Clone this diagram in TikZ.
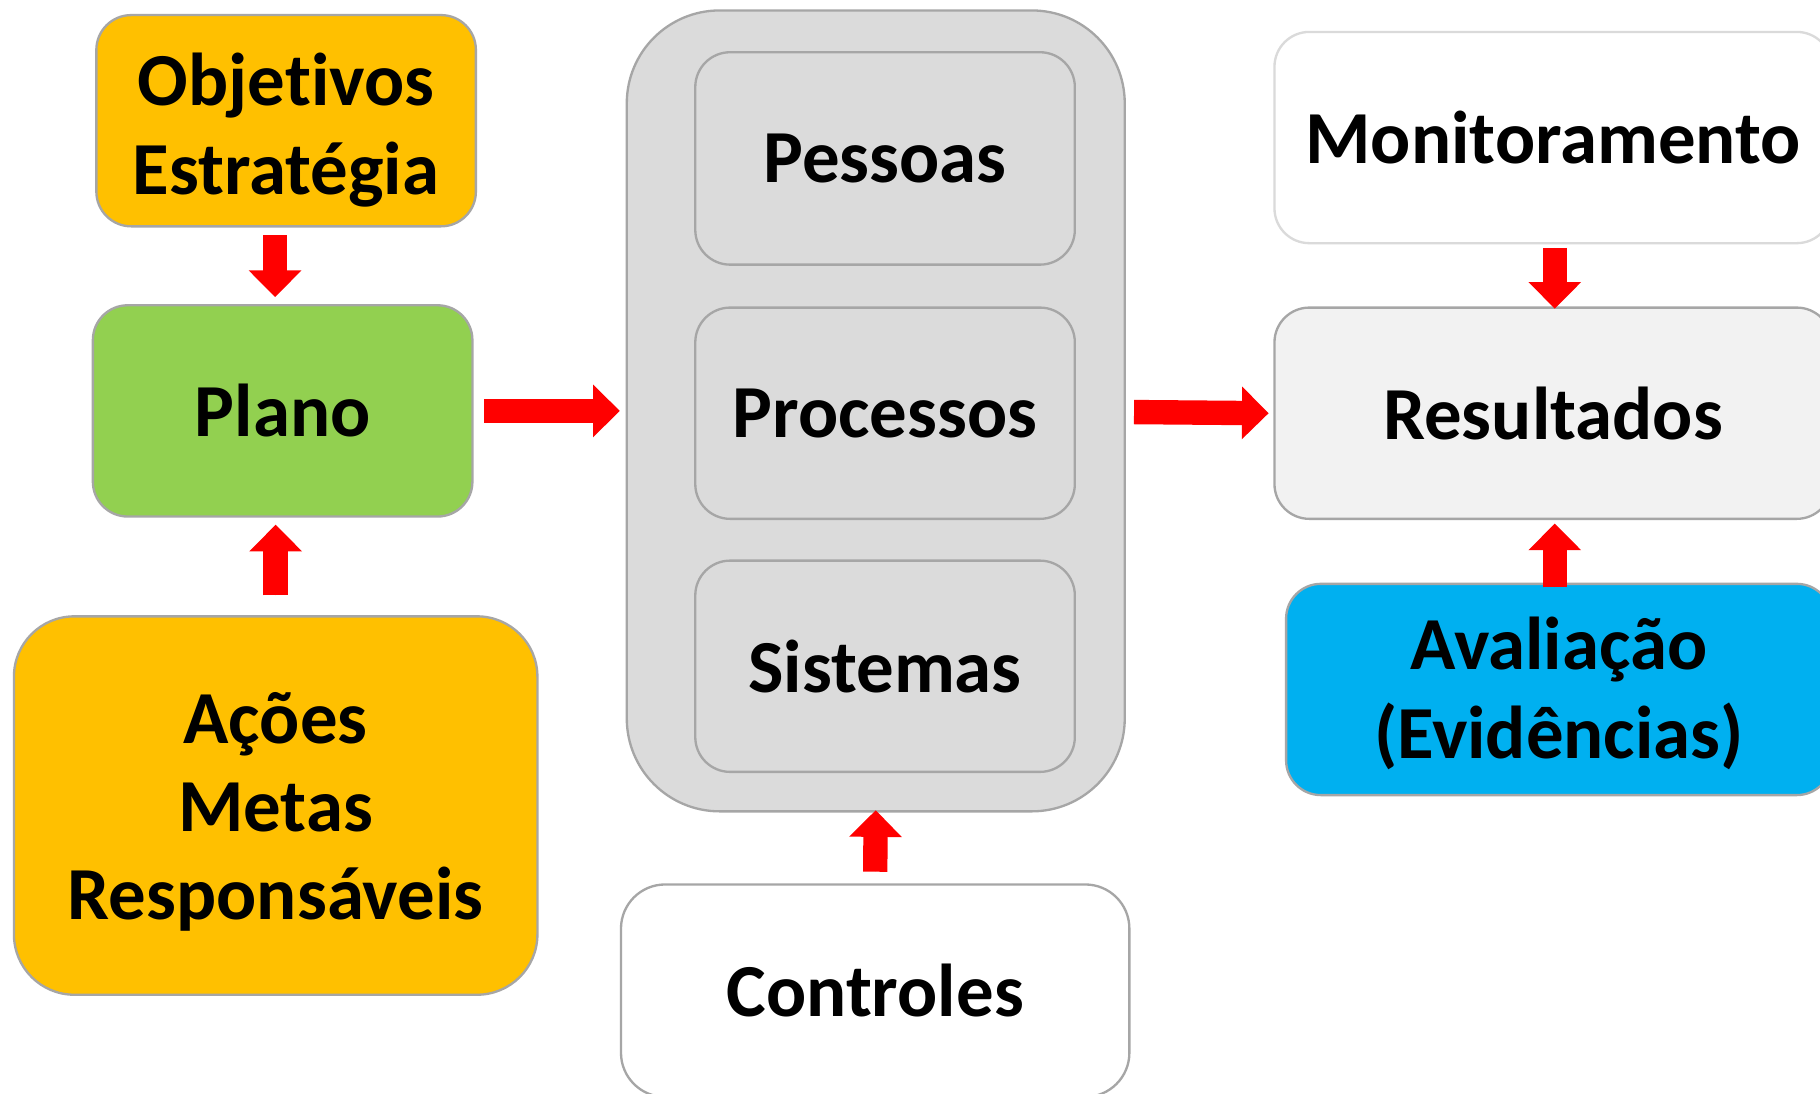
\documentclass[tikz,border=0pt]{standalone}
\usepackage{fontspec}
\setmainfont{Carlito}[Ligatures=NoCommon]
\usetikzlibrary{arrows.meta,calc}
\definecolor{orangeF}{HTML}{FFC000}
\definecolor{greenF}{HTML}{92D050}
\definecolor{blueF}{HTML}{00B0F0}
\definecolor{grayF}{HTML}{DBDBDB}
\definecolor{lightF}{HTML}{F2F2F2}
\definecolor{edgeG}{HTML}{A6A6A6}
\definecolor{edgeL}{HTML}{DADADA}
\definecolor{redA}{HTML}{FF0000}
\newcommand{\lowered}[2]{\raisebox{0pt}[\dimexpr\height+#1\relax][\depth]{\begin{tabular}{@{}c@{}}#2\end{tabular}}}
\begin{document}
\begin{tikzpicture}[x=1pt,y=-1pt,
  box/.style={draw=edgeG, line width=2pt, rectangle, inner sep=0pt, align=center,
    font=\fontsize{64.5}{76}\selectfont\bfseries, text=black},
  blockarrow/.style={draw=redA, fill=redA, line width=21pt,
    -{Triangle[width=44pt,length=23pt]}}]
\useasboundingbox (0,0) rectangle (1568,942);
\clip (0,0) rectangle (1568,942);
\fill[white] (0,0) rectangle (1568,942);

% left column
\node[box, fill=orangeF, minimum width=327pt, minimum height=182pt, rounded corners=30pt]
  (obj) at (246.5,104) {\lowered{20pt}{Objetivos\\Estratégia}};
\node[box, fill=greenF, minimum width=327pt, minimum height=182pt, rounded corners=30pt]
  (plano) at (243.5,354) {Plano};
\node[box, fill=orangeF, minimum width=451pt, minimum height=326pt, rounded corners=52pt]
  (acoes) at (237.5,694) {\lowered{14pt}{Ações\\Metas\\Responsáveis}};

% middle column
\node[box, fill=grayF, minimum width=429pt, minimum height=690pt, rounded corners=80pt]
  (big) at (754.5,354) {};
\node[box, fill=grayF, minimum width=327pt, minimum height=183pt, rounded corners=30pt]
  (pessoas) at (762.5,136.5) {Pessoas};
\node[box, fill=grayF, minimum width=327pt, minimum height=182pt, rounded corners=30pt]
  (processos) at (762.5,356) {Processos};
\node[box, fill=grayF, minimum width=327pt, minimum height=182pt, rounded corners=30pt]
  (sistemas) at (762.5,574) {Sistemas};
\node[box, fill=white, minimum width=438pt, minimum height=183pt, rounded corners=38pt]
  (controles) at (754,853.5) {Controles};

% right column
\node[box, draw=edgeL, fill=white, minimum width=480pt, minimum height=182pt, rounded corners=30pt]
  (monit) at (1338,118.5) {Monitoramento};
\node[box, fill=lightF, minimum width=480pt, minimum height=182pt, rounded corners=30pt]
  (result) at (1338,356) {Resultados};
\node[box, fill=blueF, minimum width=470pt, minimum height=182pt, rounded corners=30pt]
  (aval) at (1343,594) {\lowered{12pt}{Avaliação\\(Evidências)}};

% arrows
\draw[blockarrow] ($(obj.south)+(-9.5,6.5)$) -- ($(plano.north)+(-6.5,-6)$);
\draw[blockarrow] ($(acoes.north)+(0,-17)$) -- ($(plano.south)+(-6,6)$);
\draw[blockarrow] ($(plano.east)+(9,0)$) -- ($(big.west)+(-5,0)$);
\draw[blockarrow] ($(controles.north)+(0,-10)$) -- ($(big.south)+(0,-2)$);
\draw[blockarrow] ($(big.east)+(7,1)$) -- ($(result.west)+(-4,0)$);
\draw[blockarrow] ($(monit.south)+(1.5,3)$) -- ($(result.north)+(1.5,2)$);
\draw[blockarrow] ($(aval.north)+(-3.5,4)$) -- ($(result.south)+(1.5,3)$);
\end{tikzpicture}
\end{document}
